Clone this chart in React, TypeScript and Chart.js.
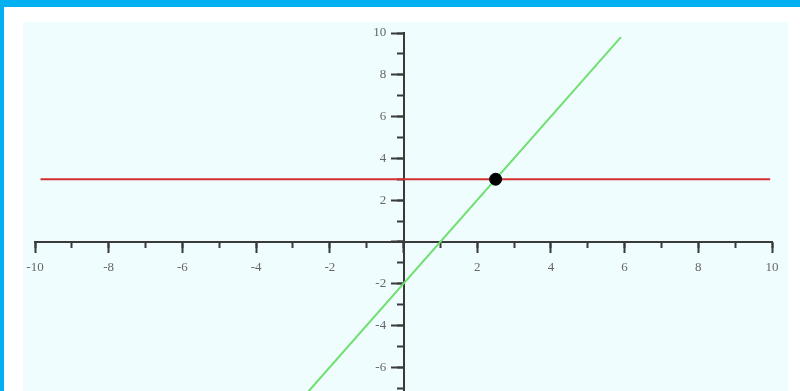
import React, { useEffect, useRef } from "react";
import { Chart, registerables } from "chart.js";

Chart.register(...registerables);

// Data
const redLineX = [-9.85, 9.95];
const redLineY = [3, 3];
const greenLineX = [-3, 5.9];
const greenLineY = [-8, 9.8];
const pointX = [2.5];
const pointY = [3];

const xMin = -10;
const xMax = 10;
const yMin = -8;
const yMax = 10;

const toPoints = (xs: number[], ys: number[]) => xs.map((x, i) => ({ x, y: ys[i] }));

const labelCb = (v: any) => (Number(v) === 0 ? "" : String(v));

export default function App() {
  const ref = useRef<HTMLCanvasElement | null>(null);

  useEffect(() => {
    if (!ref.current) return;
    const font = { family: "'Liberation Serif', 'DejaVu Serif', serif", size: 13 };
    const axisColor = "#3a3a3a";
    const labelColor = "#666666";
    const chart = new Chart(ref.current, {
      type: "scatter",
      data: {
        datasets: [
          {
            data: toPoints(pointX, pointY),
            backgroundColor: "#000000",
            borderColor: "#000000",
            pointRadius: 6,
            showLine: false,
          },
          {
            data: toPoints(redLineX, redLineY),
            borderColor: "#d42f2f",
            borderWidth: 2,
            pointRadius: 0,
            showLine: true,
          },
          {
            data: toPoints(greenLineX, greenLineY),
            borderColor: "#6ee06e",
            borderWidth: 2,
            pointRadius: 0,
            showLine: true,
          },
        ],
      },
      options: {
        animation: false,
        responsive: false,
        events: [],
        layout: { padding: { left: 35, right: 28, top: 33, bottom: 11 } },
        plugins: { legend: { display: false }, tooltip: { enabled: false } },
        scales: {
          x: {
            type: "linear",
            min: xMin,
            max: xMax,
            position: { y: 0 } as any,
            border: { display: true, color: axisColor, width: 2 },
            grid: { drawOnChartArea: false, drawTicks: true, tickLength: 10, tickColor: axisColor, tickWidth: 2 },
            ticks: { stepSize: 2, autoSkip: false, includeBounds: false, callback: labelCb, color: labelColor, font, padding: 8, maxRotation: 0 },
          },
          x2: {
            type: "linear",
            axis: "x",
            min: xMin,
            max: xMax,
            position: { y: 0 } as any,
            border: { display: false },
            grid: { drawOnChartArea: false, drawTicks: true, tickLength: 6, tickColor: axisColor, tickWidth: 2 },
            ticks: { stepSize: 1, autoSkip: false, includeBounds: false, display: false },
          },
          y: {
            type: "linear",
            min: yMin,
            max: yMax,
            position: { x: 0 } as any,
            border: { display: true, color: axisColor, width: 2 },
            grid: { drawOnChartArea: false, drawTicks: true, tickLength: 12, tickColor: axisColor, tickWidth: 2 },
            ticks: { stepSize: 2, autoSkip: false, includeBounds: false, display: false },
          },
          y2: {
            type: "linear",
            axis: "y",
            min: yMin,
            max: yMax,
            position: { x: 0 } as any,
            border: { display: false },
            grid: { drawOnChartArea: false, drawTicks: true, tickLength: 7, tickColor: axisColor, tickWidth: 2 },
            ticks: { stepSize: 1, autoSkip: false, includeBounds: false, display: false },
          },
          yLabels: {
            type: "linear",
            axis: "y",
            min: yMin,
            max: yMax,
            position: { x: -0.47 } as any,
            border: { display: false },
            grid: { display: false, drawOnChartArea: false, drawTicks: false },
            ticks: { stepSize: 2, autoSkip: false, includeBounds: false, callback: labelCb, color: labelColor, font, padding: 0 },
          },
        },
      },
    } as any);
    return () => chart.destroy();
  }, []);

  return (
    <div
      style={{
        position: "fixed",
        left: 0,
        top: 0,
        width: 800,
        height: 391,
        overflow: "hidden",
        background: "#00b0f0",
      }}
    >
      <div style={{ position: "absolute", left: 4, top: 7, right: 0, bottom: 0, background: "#ffffff" }} />
      <div style={{ position: "absolute", left: 23, top: 22, width: 765, bottom: 0, background: "#f0fdff" }} />
      <canvas ref={ref} width={800} height={420} style={{ position: "absolute", left: 0, top: 0 }} />
    </div>
  );
}
